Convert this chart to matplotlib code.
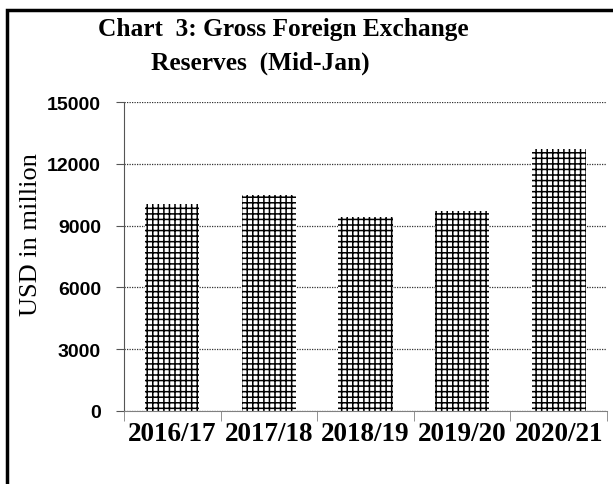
# Chart 3: Gross Foreign Exchange Reserves (Mid-Jan)
import matplotlib
matplotlib.use("Agg")
import matplotlib.pyplot as plt
from matplotlib.patches import Rectangle

years = ["2016/17", "2017/18", "2018/19", "2019/20", "2020/21"]
reserves = [10070, 10500, 9440, 9730, 12730]   # USD million
yticks = [0, 3000, 6000, 9000, 12000, 15000]

W, H = 613, 485
plt.rcParams["hatch.linewidth"] = 1.1

fig = plt.figure(figsize=(W / 100, H / 100), dpi=100)
ax = fig.add_axes([124 / W, 1 - 411.7 / H, (607 - 124) / W, (411.7 - 103.3) / H])

x = list(range(len(years)))
ax.bar(x, reserves, width=0.56, color="white", edgecolor="black",
       linewidth=0, hatch="+++", zorder=2)

ax.set_xlim(-0.5, len(years) - 0.5)
ax.set_ylim(0, 15000)
ax.set_yticks(yticks)
ax.set_yticklabels([str(v) for v in yticks], family="Liberation Sans",
                   fontweight="bold", fontsize=14)
ax.tick_params(axis="y", length=6, pad=10.5, color="#555555")
ax.yaxis.grid(True, linestyle=(0, (1, 1)), color="#333333", linewidth=0.9, zorder=1)

ax.set_xticks(x)
ax.set_xticklabels(years, family="Liberation Serif", fontweight="bold", fontsize=19.5)
ax.set_xticks([i - 0.5 for i in range(len(years) + 1)], minor=True)
ax.tick_params(axis="x", which="major", length=0, pad=7.5)
ax.tick_params(axis="x", which="minor", length=7, color="#808080")

for s in ["top", "right"]:
    ax.spines[s].set_visible(False)
ax.spines["left"].set_color("#555555")
ax.spines["bottom"].set_color("#808080")

fig.text(31 / W, 1 - 235 / H, "USD in million", rotation=90, ha="center",
         va="center", family="Liberation Serif", fontsize=19)

fig.text(283 / W, 1 - 36 / H, "Chart  3: Gross Foreign Exchange", ha="center",
         va="baseline", family="Liberation Serif", fontweight="bold", fontsize=18.3)
fig.text(260 / W, 1 - 70 / H, "Reserves  (Mid-Jan)", ha="center",
         va="baseline", family="Liberation Serif", fontweight="bold", fontsize=18.3)

# outer frame (only left and top edges fall inside the picture)
top = 1 - 11 / H
fig.add_artist(Rectangle((7 / W, -0.5), 1.2, top + 0.5,
                         transform=fig.transFigure, fill=False,
                         edgecolor="black", linewidth=2.5, clip_on=False))

fig.savefig("out.png", dpi=100)
